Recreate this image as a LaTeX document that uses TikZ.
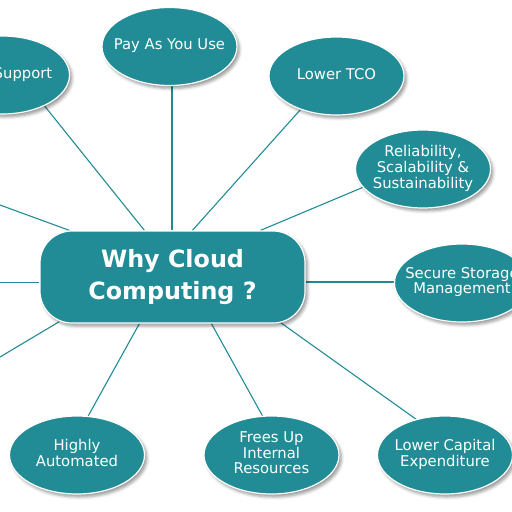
\documentclass[tikz,border=0pt]{standalone}
\usepackage{fontspec}
\setmainfont{DejaVu Sans}
\usetikzlibrary{shapes.geometric,shadows.blur,backgrounds,calc}
\definecolor{tealA}{RGB}{33,140,149}
\newcommand\ztxt[1]{\makebox[0pt]{\raisebox{\dimexpr(\depth-\height)/2\relax}[0pt][0pt]{\begin{tabular}{@{}c@{}}#1\end{tabular}}}}
\tikzset{
  bub/.style={ellipse, fill=tealA, draw=white, line width=1.2pt, inner sep=0pt,
    minimum width=135pt, minimum height=78pt, text=white,
    font=\fontsize{14.8}{15.5}\selectfont,
    blur shadow={shadow xshift=2.5pt, shadow yshift=-3pt, shadow blur radius=3pt, shadow opacity=40}},
  hub/.style={rectangle, rounded corners=32pt, fill=tealA, draw=white, line width=1.2pt, inner sep=0pt,
    minimum width=265pt, minimum height=92pt, text=white,
    font=\fontsize{23.8}{32}\selectfont\bfseries,
    blur shadow={shadow xshift=2.5pt, shadow yshift=-3pt, shadow blur radius=3pt, shadow opacity=40}},
  conn/.style={draw=tealA, line width=1.1pt}
}
\begin{document}
\begin{tikzpicture}[x=1pt,y=-1pt]
\useasboundingbox (0,0) rectangle (512,512);
\clip (0,0) rectangle (512,512);
\node[hub] (why) at (172.5,277) {\ztxt{Why Cloud\\Computing ?}};
\node[bub] (sup) at (2,75) {\ztxt{\hspace*{42pt}Support}};
\node[bub] (pay) at (169.5,46.5) {\ztxt{Pay As You Use}};
\node[bub] (tco) at (336.5,76) {\ztxt{Lower TCO}};
\node[bub] (rel) at (423,169) {\ztxt{Reliability,\\Scalability \&\\Sustainability}};
\node[bub] (sec) at (462,283) {\ztxt{Secure Storage\\Management}};
\node[bub] (cap) at (445,455) {\ztxt{Lower Capital\\Expenditure}};
\node[bub] (fre) at (271.5,455) {\ztxt{Frees Up\\Internal\\Resources}};
\node[bub] (aut) at (77,455) {\ztxt{Highly\\Automated}};
\coordinate (l1) at (0,282.5);
\coordinate (l2) at (0,205);
\coordinate (l3) at (0,357);
\begin{pgfonlayer}{background}
\draw[conn] (sup.-36) -- ([xshift=105pt]why.north west);
\draw[conn] ([xshift=2.5pt]pay.south) -- ([xshift=2.5pt]pay.south |- why.north);
\draw[conn] (tco.223) -- ([xshift=153pt]why.north west);
\draw[conn] (rel.197) -- ([xshift=221pt]why.north west);
\draw[conn] ([yshift=1pt]sec.west) -- ([yshift=1pt]sec.west -| why.east);
\draw[conn] (cap.129) -- ([xshift=-25pt,yshift=1pt]why.south east);
\draw[conn] (fre.103.7) -- ([xshift=172pt]why.south west);
\draw[conn] (aut.74.6) -- ([xshift=100pt]why.south west);
\draw[conn] (l1) -- (l1 -| why.west);
\draw[conn] (l2) -- ([xshift=30pt]why.north west);
\draw[conn] (l3) -- ([xshift=20pt,yshift=2pt]why.south west);
\end{pgfonlayer}
\end{tikzpicture}
\end{document}
